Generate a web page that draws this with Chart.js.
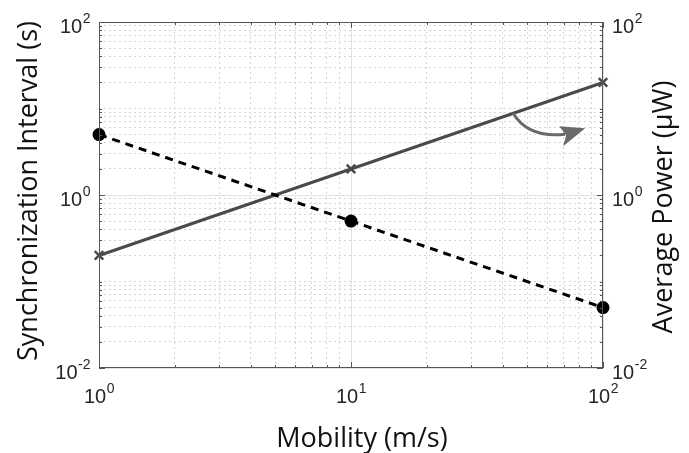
<!DOCTYPE html>
<html>
<head>
<meta charset="utf-8">
<script src="https://cdn.jsdelivr.net/npm/chart.js@4"></script>
<style>
  body { margin: 0; background: #fff; }
  #wrap { width: 689px; height: 453px; }
</style>
</head>
<body>
<div id="wrap"><canvas id="chart" width="689" height="453"></canvas></div>
<script>
// data
const mobility = [1, 10, 100];
const syncInterval = [5, 0.5, 0.05];
const avgPower = [0.2, 2, 20];

const xTickExps = [0, 1, 2];
const yTickExps = [-2, 0, 2];

const boxColor = "#555555";
const labelColor = "#262626";

function logTicks(lo, hi) {
  const out = [];
  for (let e = lo; e < hi; e++) {
    for (let m = 1; m < 10; m++) out.push(m * Math.pow(10, e));
  }
  out.push(Math.pow(10, hi));
  return out;
}

function isMajor(v, exps) {
  const e = Math.log10(v);
  return Math.abs(e - Math.round(e)) < 1e-9 && exps.includes(Math.round(e));
}

function drawPow(ctx, exp, x, y, align) {
  ctx.save();
  ctx.fillStyle = labelColor;
  ctx.textBaseline = "alphabetic";
  ctx.textAlign = "left";
  const base = "10";
  const sup = String(exp);
  ctx.font = "20px 'Liberation Sans', Arial, sans-serif";
  const wb = ctx.measureText(base).width;
  ctx.font = "14px 'Liberation Sans', Arial, sans-serif";
  const ws = ctx.measureText(sup).width;
  const total = wb + ws;
  let x0 = x;
  if (align === "right") x0 = x - total;
  if (align === "center") x0 = x - total / 2;
  ctx.font = "20px 'Liberation Sans', Arial, sans-serif";
  ctx.fillText(base, x0, y);
  ctx.font = "14px 'Liberation Sans', Arial, sans-serif";
  ctx.fillText(sup, x0 + wb + 0.5, y - 10);
  ctx.restore();
}

const frame = {
  id: "frame",
  afterDraw(chart) {
    const ctx = chart.ctx;
    const a = chart.chartArea;
    const xs = chart.scales.x;
    const ys = chart.scales.y;

    ctx.save();
    ctx.strokeStyle = boxColor;
    ctx.lineWidth = 1;
    ctx.strokeRect(a.left + 0.5, a.top + 0.5, a.right - a.left - 1, a.bottom - a.top - 1);

    // inner tick marks, MATLAB style
    ctx.beginPath();
    xs.ticks.forEach(t => {
      const px = Math.round(xs.getPixelForValue(t.value)) + 0.5;
      const len = isMajor(t.value, xTickExps) ? 6 : 3;
      ctx.moveTo(px, a.bottom); ctx.lineTo(px, a.bottom - len);
      ctx.moveTo(px, a.top); ctx.lineTo(px, a.top + len);
    });
    ys.ticks.forEach(t => {
      const py = Math.round(ys.getPixelForValue(t.value)) + 0.5;
      const len = isMajor(t.value, yTickExps) ? 6 : 3;
      ctx.moveTo(a.left, py); ctx.lineTo(a.left + len, py);
      ctx.moveTo(a.right, py); ctx.lineTo(a.right - len, py);
    });
    ctx.stroke();
    ctx.restore();

    // tick labels
    xTickExps.forEach(e => {
      const px = xs.getPixelForValue(Math.pow(10, e));
      drawPow(ctx, e, px, a.bottom + 35, "center");
    });
    yTickExps.forEach(e => {
      const py = ys.getPixelForValue(Math.pow(10, e));
      drawPow(ctx, e, a.left - 9, py + 11, "right");
      drawPow(ctx, e, a.right + 9, py + 11, "left");
    });

    // axis titles
    ctx.save();
    ctx.fillStyle = "#111";
    ctx.font = "27px 'Open Sans', 'Noto Sans', sans-serif";
    ctx.textAlign = "center";
    ctx.textBaseline = "alphabetic";
    ctx.fillText("Mobility (m/s)", 362, 447, 182);

    ctx.translate(37, 191);
    ctx.rotate(-Math.PI / 2);
    ctx.fillText("Synchronization Interval (s)", 0, 0, 356);
    ctx.restore();

    ctx.save();
    ctx.fillStyle = "#111";
    ctx.font = "27px 'Open Sans', 'Noto Sans', sans-serif";
    ctx.textAlign = "center";
    ctx.translate(672, 207);
    ctx.rotate(-Math.PI / 2);
    ctx.fillText("Average Power (\u03bcW)", 0, 0, 266);
    ctx.restore();

    // curved arrow pointing at the right axis
    const sx = xs.getPixelForValue(44);
    const sy = ys.getPixelForValue(0.2 * 44);
    ctx.save();
    ctx.strokeStyle = "#6a6a6a";
    ctx.fillStyle = "#6a6a6a";
    ctx.lineWidth = 3;
    ctx.beginPath();
    ctx.moveTo(sx, sy);
    ctx.quadraticCurveTo(sx + 15, sy + 25, sx + 52, sy + 21);
    ctx.stroke();
    ctx.beginPath();
    ctx.moveTo(sx + 72, sy + 15);
    ctx.lineTo(sx + 46, sy + 13);
    ctx.lineTo(sx + 53, sy + 22);
    ctx.lineTo(sx + 50, sy + 33);
    ctx.closePath();
    ctx.fill();
    ctx.restore();
  }
};

new Chart(document.getElementById("chart"), {
  type: "line",
  data: {
    datasets: [{
      label: "Synchronization Interval",
      data: mobility.map((x, i) => ({ x, y: syncInterval[i] })),
      yAxisID: "y",
      clip: false,
      borderColor: "#000",
      backgroundColor: "#000",
      borderWidth: 3,
      borderDash: [8, 6],
      pointStyle: "circle",
      pointRadius: 5,
      pointBackgroundColor: "#000",
      pointBorderColor: "#000",
      tension: 0
    }, {
      label: "Average Power",
      data: mobility.map((x, i) => ({ x, y: avgPower[i] })),
      yAxisID: "y2",
      clip: false,
      borderColor: "#4a4a4a",
      backgroundColor: "#4a4a4a",
      borderWidth: 3,
      pointStyle: "crossRot",
      pointRadius: 6,
      pointBorderWidth: 2.5,
      pointBorderColor: "#4a4a4a",
      tension: 0
    }]
  },
  options: {
    responsive: false,
    animation: false,
    layout: { padding: { top: 22, left: 0, right: 0, bottom: 0 } },
    plugins: { legend: { display: false }, tooltip: { enabled: false } },
    scales: {
      x: {
        type: "logarithmic",
        min: 1,
        max: 100,
        afterBuildTicks: s => { s.ticks = logTicks(0, 2).map(v => ({ value: v })); },
        afterFit: s => { s.height = 85; },
        ticks: { display: false },
        grid: {
          drawTicks: false,
          color: c => isMajor(c.tick.value, xTickExps) ? "#e2e2e2" : "#d6d6d6"
        },
        border: {
          display: false,
          dash: c => isMajor(c.tick.value, xTickExps) ? [] : [2, 3]
        }
      },
      y: {
        type: "logarithmic",
        position: "left",
        min: 0.01,
        max: 100,
        afterBuildTicks: s => { s.ticks = logTicks(-2, 2).map(v => ({ value: v })); },
        afterFit: s => { s.width = 99; },
        ticks: { display: false },
        grid: {
          drawTicks: false,
          color: c => isMajor(c.tick.value, yTickExps) ? "#e2e2e2" : "#d6d6d6"
        },
        border: {
          display: false,
          dash: c => isMajor(c.tick.value, yTickExps) ? [] : [2, 3]
        }
      },
      y2: {
        type: "logarithmic",
        position: "right",
        min: 0.01,
        max: 100,
        afterFit: s => { s.width = 86; },
        ticks: { display: false },
        grid: { drawOnChartArea: false, drawTicks: false },
        border: { display: false }
      }
    }
  },
  plugins: [frame]
});
</script>
</body>
</html>
